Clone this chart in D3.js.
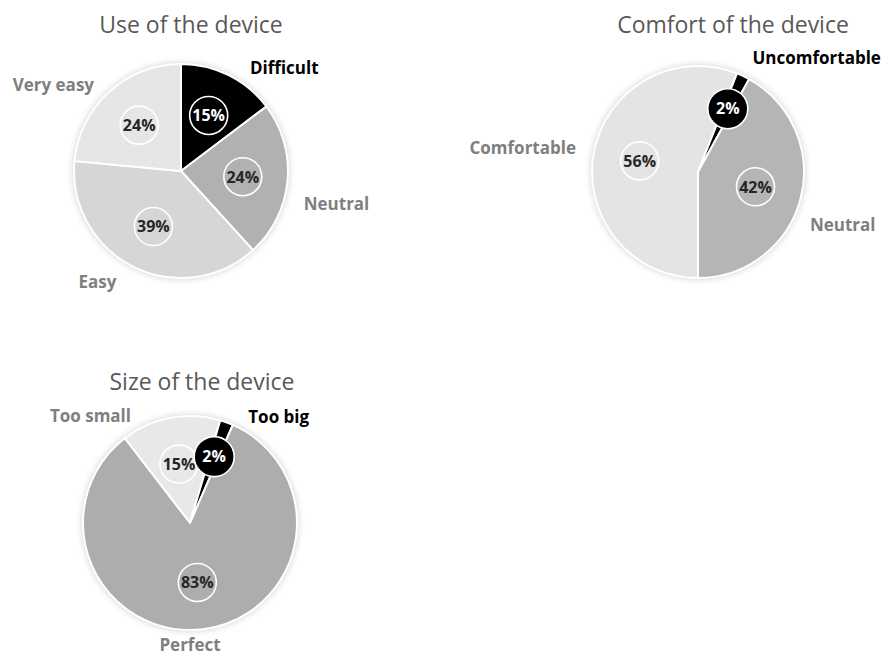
<!DOCTYPE html>
<html>
<head>
<meta charset="utf-8">
<script src="https://d3js.org/d3.v7.min.js"></script>
<style>
  body { margin: 0; background: #fff; }
  svg text { font-family: "Open Sans", "DejaVu Sans", sans-serif; }
</style>
</head>
<body>
<svg id="chart" width="884" height="659"></svg>
<script>
    // data
    const useCats = ["Difficult", "Neutral", "Easy", "Very easy"];
    const useVals = [15, 24, 39, 24];
    const useColors = ["#000000", "#b1b1b1", "#d6d6d6", "#e6e6e6"];

    const comfortCats = ["Comfortable", "Uncomfortable", "Neutral"];
    const comfortVals = [56, 2, 42];
    const comfortColors = ["#e4e4e4", "#000000", "#b5b5b5"];

    const sizeCats = ["Too small", "Too big", "Perfect"];
    const sizeVals = [15, 2, 83];
    const sizeColors = ["#e8e8e8", "#000000", "#adadad"];

    // layout
    const charts = [
        {title: "Use of the device", cats: useCats, vals: useVals, colors: useColors,
         cx: 181, cy: 171, r: 107, start: 0, titleX: 191, titleY: 33,
         spots: [[45, 146], [102, 159], [217, 139], [304, 154]], innerK: 0.58},
        {title: "Comfort of the device", cats: comfortCats, vals: comfortVals, colors: comfortColors,
         cx: 698, cy: 172, r: 106, start: 180, titleX: 733, titleY: 33,
         spots: [[278, 177], [46, 165], [110, 154]], innerK: 0.56},
        {title: "Size of the device", cats: sizeCats, vals: sizeVals, colors: sizeColors,
         cx: 190, cy: 523, r: 107, start: -37.6, titleX: 202, titleY: 390,
         spots: [[317, 146], [40, 138], [180, 122]], innerK: 0.56}
    ];

    const svg = d3.select("#chart");
    const rad = Math.PI / 180;

    const defs = svg.append("defs");
    defs.append("filter").attr("id", "soft")
        .attr("x", "-20%").attr("y", "-20%").attr("width", "140%").attr("height", "140%")
        .append("feGaussianBlur").attr("stdDeviation", 3.5);

    charts.forEach(function(c) {
        const g = svg.append("g").attr("transform", "translate(" + c.cx + "," + c.cy + ")");
        const total = d3.sum(c.vals);

        svg.append("text")
            .attr("x", c.titleX).attr("y", c.titleY)
            .attr("text-anchor", "middle")
            .attr("font-size", 23)
            .attr("fill", "#595959")
            .text(c.title);

        // soft shadow behind the pie
        g.append("circle")
            .attr("r", c.r + 1)
            .attr("fill", "#000")
            .attr("opacity", 0.18)
            .attr("filter", "url(#soft)");

        const pie = d3.pie().sort(null)
            .startAngle(c.start * rad)
            .endAngle(c.start * rad + 2 * Math.PI);
        const arcs = pie(c.vals);

        const arc = d3.arc().innerRadius(0).outerRadius(c.r);

        g.selectAll("path.slice")
            .data(arcs)
            .enter()
            .append("path")
            .attr("class", "slice")
            .attr("d", arc)
            .attr("fill", (d, i) => c.colors[i])
            .attr("stroke", "#fff")
            .attr("stroke-width", 2)
            .attr("stroke-linejoin", "round");

        // percentage bubbles
        arcs.forEach(function(d, i) {
            const small = d.value / total < 0.05;
            const k = small ? 0.66 : c.innerK;
            const labelArc = d3.arc().innerRadius(c.r * k).outerRadius(c.r * k);
            const p = labelArc.centroid(d);
            const dark = c.colors[i] === "#000000";

            g.append("circle")
                .attr("cx", p[0]).attr("cy", p[1])
                .attr("r", small ? 20 : 19)
                .attr("fill", small ? "#000" : "none")
                .attr("stroke", "#fff")
                .attr("stroke-width", 1.6);

            g.append("text")
                .attr("x", p[0]).attr("y", p[1])
                .attr("dy", "0.36em")
                .attr("text-anchor", "middle")
                .attr("font-size", 16)
                .attr("font-weight", "bold")
                .attr("fill", dark ? "#fff" : "#262626")
                .text(d.value + "%");
        });

        // category labels outside the pie
        c.cats.forEach(function(name, i) {
            const a = c.spots[i][0] * rad;
            const dist = c.spots[i][1];
            const dark = c.colors[i] === "#000000";
            g.append("text")
                .attr("x", dist * Math.sin(a))
                .attr("y", -dist * Math.cos(a))
                .attr("dy", "0.36em")
                .attr("text-anchor", "middle")
                .attr("font-size", 17)
                .attr("font-weight", "bold")
                .attr("fill", dark ? "#000" : "#7f7f7f")
                .text(name);
        });
    });
</script>
</body>
</html>
